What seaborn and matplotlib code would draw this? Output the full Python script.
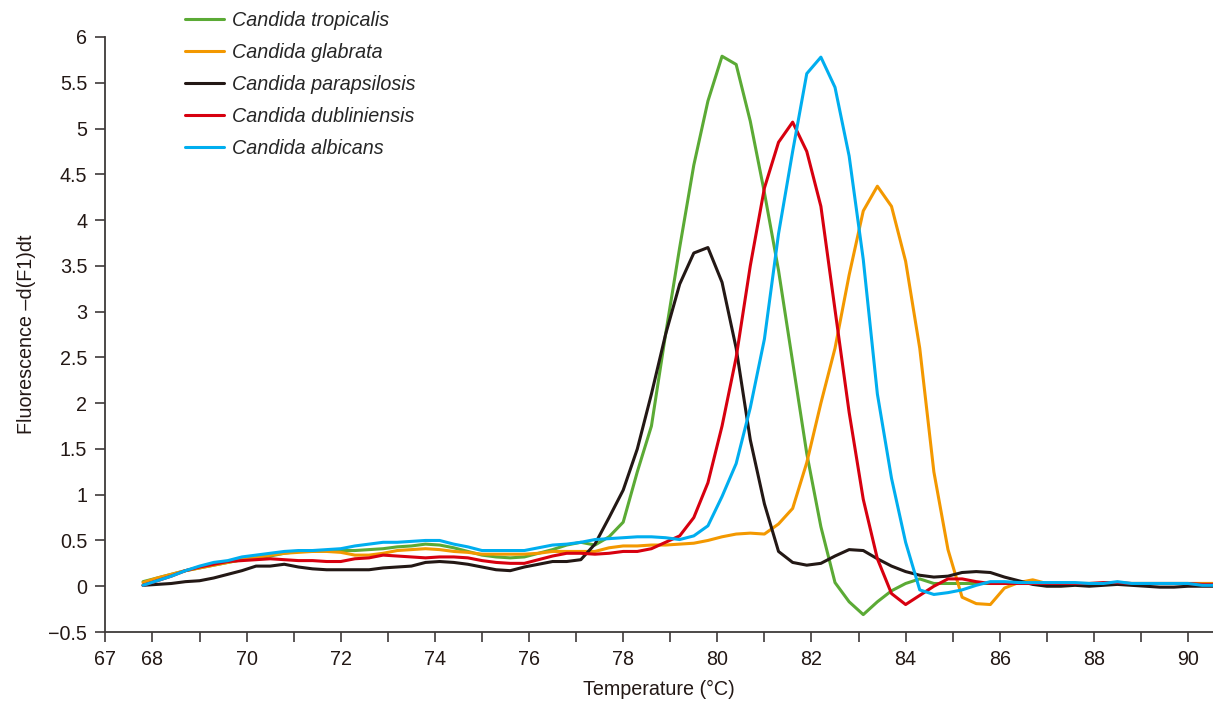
import numpy as np
import pandas as pd
import matplotlib
matplotlib.use("Agg")
import matplotlib.pyplot as plt
from matplotlib.ticker import FuncFormatter
import seaborn as sns

# melt curve derivative (0.3 degC steps)
temperature = [
    67.8, 68.1, 68.4, 68.7, 69.0, 69.3, 69.6, 69.9, 70.2, 70.5,
    70.8, 71.1, 71.4, 71.7, 72.0, 72.3, 72.6, 72.9, 73.2, 73.5,
    73.8, 74.1, 74.4, 74.7, 75.0, 75.3, 75.6, 75.9, 76.2, 76.5,
    76.8, 77.1, 77.4, 77.7, 78.0, 78.3, 78.6, 78.9, 79.2, 79.5,
    79.8, 80.1, 80.4, 80.7, 81.0, 81.3, 81.6, 81.9, 82.2, 82.5,
    82.8, 83.1, 83.4, 83.7, 84.0, 84.3, 84.6, 84.9, 85.2, 85.5,
    85.8, 86.1, 86.4, 86.7, 87.0, 87.3, 87.6, 87.9, 88.2, 88.5,
    88.8, 89.1, 89.4, 89.7, 90.0, 90.3, 90.6,
]

tropicalis = [
    0.05, 0.09, 0.13, 0.17, 0.20, 0.23, 0.26, 0.29, 0.31, 0.33,
    0.36, 0.38, 0.38, 0.39, 0.39, 0.39, 0.40, 0.41, 0.43, 0.44,
    0.46, 0.45, 0.42, 0.38, 0.34, 0.32, 0.31, 0.32, 0.36, 0.40,
    0.45, 0.48, 0.45, 0.54, 0.70, 1.25, 1.75, 2.75, 3.70, 4.60,
    5.30, 5.79, 5.70, 5.08, 4.30, 3.45, 2.45, 1.45, 0.65, 0.04,
    -0.17, -0.31, -0.17, -0.05, 0.03, 0.08, 0.03, 0.03, 0.03, 0.03,
    0.03, 0.03, 0.03, 0.03, 0.03, 0.03, 0.03, 0.03, 0.03, 0.03,
    0.03, 0.03, 0.03, 0.03, 0.03, 0.03, 0.03,
]

glabrata = [
    0.04, 0.09, 0.13, 0.17, 0.20, 0.23, 0.26, 0.29, 0.31, 0.34,
    0.36, 0.37, 0.38, 0.38, 0.37, 0.34, 0.34, 0.36, 0.39, 0.40,
    0.41, 0.40, 0.38, 0.37, 0.35, 0.35, 0.35, 0.35, 0.36, 0.38,
    0.38, 0.38, 0.38, 0.42, 0.44, 0.44, 0.45, 0.45, 0.46, 0.47,
    0.50, 0.54, 0.57, 0.58, 0.57, 0.68, 0.85, 1.35, 2.00, 2.60,
    3.40, 4.10, 4.37, 4.15, 3.55, 2.60, 1.25, 0.40, -0.12, -0.19,
    -0.20, -0.02, 0.04, 0.07, 0.03, 0.03, 0.03, 0.03, 0.03, 0.03,
    0.03, 0.03, 0.03, 0.03, 0.03, 0.03, 0.03,
]

parapsilosis = [
    0.01, 0.02, 0.03, 0.05, 0.06, 0.09, 0.13, 0.17, 0.22, 0.22,
    0.24, 0.21, 0.19, 0.18, 0.18, 0.18, 0.18, 0.20, 0.21, 0.22,
    0.26, 0.27, 0.26, 0.24, 0.21, 0.18, 0.17, 0.21, 0.24, 0.27,
    0.27, 0.29, 0.46, 0.75, 1.05, 1.50, 2.10, 2.75, 3.30, 3.64,
    3.70, 3.32, 2.60, 1.60, 0.90, 0.38, 0.26, 0.23, 0.25, 0.33,
    0.40, 0.39, 0.30, 0.22, 0.16, 0.12, 0.10, 0.11, 0.15, 0.16,
    0.15, 0.10, 0.06, 0.02, 0.00, 0.00, 0.01, 0.00, 0.01, 0.02,
    0.01, 0.00, -0.01, -0.01, 0.00, 0.00, 0.00,
]

dubliniensis = [
    0.01, 0.06, 0.11, 0.17, 0.21, 0.24, 0.27, 0.28, 0.29, 0.30,
    0.29, 0.28, 0.28, 0.27, 0.27, 0.30, 0.31, 0.34, 0.33, 0.32,
    0.31, 0.32, 0.32, 0.31, 0.28, 0.26, 0.25, 0.25, 0.29, 0.33,
    0.36, 0.36, 0.35, 0.36, 0.38, 0.38, 0.41, 0.48, 0.55, 0.75,
    1.13, 1.75, 2.50, 3.50, 4.35, 4.85, 5.07, 4.75, 4.15, 3.02,
    1.90, 0.95, 0.30, -0.08, -0.20, -0.10, 0.00, 0.08, 0.08, 0.05,
    0.03, 0.03, 0.03, 0.03, 0.03, 0.03, 0.03, 0.03, 0.04, 0.04,
    0.03, 0.03, 0.03, 0.03, 0.03, 0.02, 0.02,
]

albicans = [
    0.01, 0.06, 0.11, 0.17, 0.22, 0.26, 0.28, 0.32, 0.34, 0.36,
    0.38, 0.39, 0.39, 0.40, 0.41, 0.44, 0.46, 0.48, 0.48, 0.49,
    0.50, 0.50, 0.46, 0.43, 0.39, 0.39, 0.39, 0.39, 0.42, 0.45,
    0.46, 0.48, 0.51, 0.52, 0.53, 0.54, 0.54, 0.53, 0.51, 0.55,
    0.66, 0.98, 1.34, 1.95, 2.70, 3.85, 4.75, 5.60, 5.78, 5.45,
    4.70, 3.57, 2.10, 1.18, 0.48, -0.04, -0.09, -0.07, -0.04, 0.01,
    0.05, 0.05, 0.04, 0.04, 0.04, 0.04, 0.04, 0.03, 0.03, 0.05,
    0.03, 0.03, 0.03, 0.03, 0.03, 0.01, 0.01,
]

species = ["Candida tropicalis", "Candida glabrata", "Candida parapsilosis",
           "Candida dubliniensis", "Candida albicans"]
colors = ["#5BAA35", "#F39800", "#231815", "#D7000F", "#00AEEF"]

series = [tropicalis, glabrata, parapsilosis, dubliniensis, albicans]
df = pd.concat([
    pd.DataFrame({"temp": temperature, "fluor": vals, "species": name})
    for name, vals in zip(species, series)
], ignore_index=True)

sns.set_style("ticks")
plt.rcParams["font.family"] = ["Liberation Sans", "DejaVu Sans"]
FS = 14.2

fig = plt.figure(figsize=(12.13, 7.02), dpi=100)
ax = fig.add_axes([105.4 / 1213, 70 / 702, 1 - 105.4 / 1213, 595 / 702])

sns.lineplot(data=df, x="temp", y="fluor", hue="species", hue_order=species,
             palette=colors, linewidth=2.2, sort=False, estimator=None, ax=ax)

ax.set_xlim(67, 90.53)
ax.set_ylim(-0.5, 6)
ax.set_xticks(range(67, 91))
ax.set_xticklabels([str(t) if (t == 67 or t % 2 == 0) else "" for t in range(67, 91)])
ax.set_yticks(np.arange(-0.5, 6.01, 0.5))
ax.yaxis.set_major_formatter(FuncFormatter(lambda v, p: f"{v:g}".replace("-", "\u2212")))

edge = "#3E3A39"
for s in ["top", "right"]:
    ax.spines[s].set_visible(False)
for s in ["left", "bottom"]:
    ax.spines[s].set_color(edge)
    ax.spines[s].set_linewidth(1.3)
ax.tick_params(axis="both", direction="out", length=7, width=1.2, color=edge,
               labelsize=FS, labelcolor="#231815", pad=6)

ax.set_xlabel("Temperature (\u00b0C)", fontsize=FS, color="#231815", labelpad=8)
ax.set_ylabel("Fluorescence \u2013d(F1)dt", fontsize=FS, color="#231815", labelpad=9)

handles, labels = ax.get_legend_handles_labels()
ax.legend(handles, labels, loc="upper left", bbox_to_anchor=(175 / 1213, 1 - 1 / 702),
          bbox_transform=fig.transFigure, frameon=False, borderpad=0,
          handlelength=2.0, handletextpad=0.4, labelspacing=0.66,
          prop={"style": "italic", "size": FS})

fig.savefig("out.png", dpi=100)
